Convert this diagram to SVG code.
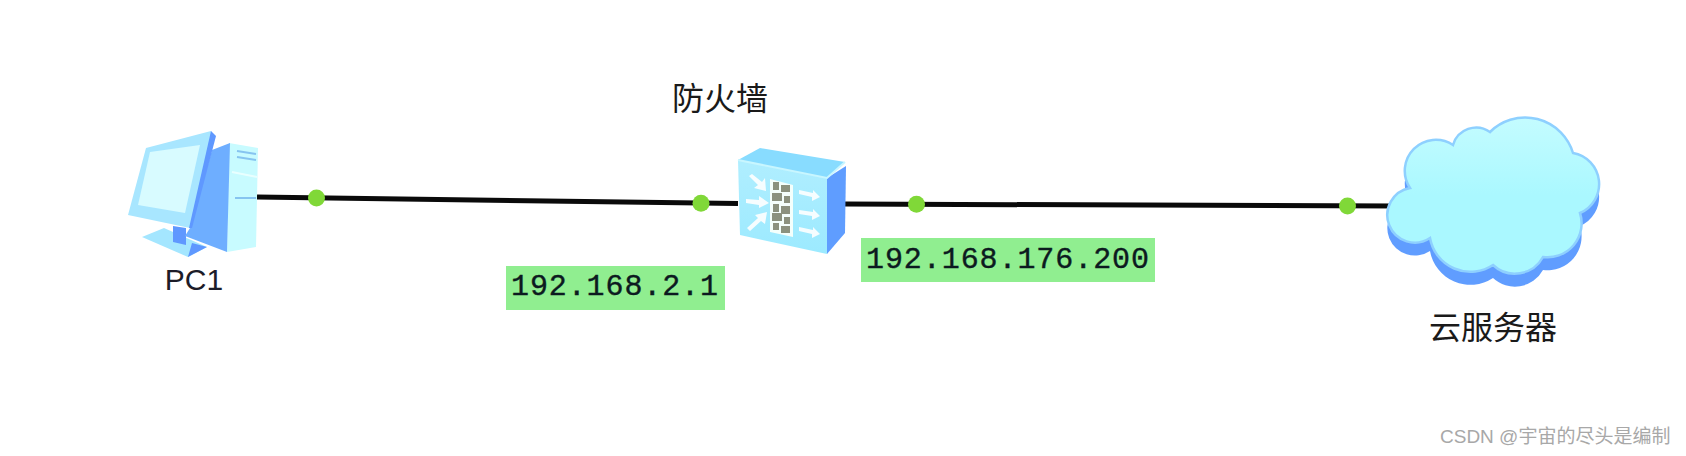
<svg xmlns="http://www.w3.org/2000/svg" width="1686" height="456" viewBox="0 0 1686 456">
<defs>
<style>
.conn{stroke:#0a0a0a;stroke-width:5;fill:none}
.dot{fill:#80d838}
.lbl{fill:#90ee90}
.ip{font-family:"Liberation Mono",monospace;font-size:30px;fill:#0c1a20;stroke:#0c1a20;stroke-width:.4}
.cn{font-family:"Noto Sans CJK SC",sans-serif;font-size:32px;fill:#1a1a1a}
.arr{fill:#fff;opacity:.9}
.brick{fill:#8b927f}
.soft{filter:url(#soft)}
</style>
<filter id="soft" x="-5%" y="-5%" width="110%" height="110%"><feGaussianBlur stdDeviation="0.7"/></filter>
<linearGradient id="cloudFill" x1="0" y1="0" x2="0" y2="1">
<stop offset="0" stop-color="#c4fcff"/><stop offset=".5" stop-color="#aaf8ff"/><stop offset="1" stop-color="#aaf8ff"/>
</linearGradient>
<linearGradient id="fwFront" x1="0" y1="0" x2="0" y2="1">
<stop offset="0" stop-color="#b0eeff"/><stop offset="1" stop-color="#9ceaff"/>
</linearGradient>
<path id="cloudShape" d="M1410 188 A27.5 27.5 0 1 0 1430 238 A41 41 0 0 0 1493 265 A32 32 0 0 0 1543 257 A34 34 0 0 0 1580 213 A31.5 31.5 0 0 0 1573 153 A50 50 0 0 0 1490 132 A24 24 0 0 0 1453 145 A31 31 0 0 0 1410 188 Z"/>
</defs>
<rect width="1686" height="456" fill="#fff"/>
<g id="connectors">
<path class="conn" d="M257 197 L738 203.5"/>
<path class="conn" d="M845 204 L1396 206"/>
<circle class="dot" cx="316.5" cy="198" r="8.5"/>
<circle class="dot" cx="701" cy="203.3" r="8.5"/>
<circle class="dot" cx="916.5" cy="204.3" r="8.5"/>
<circle class="dot" cx="1347.5" cy="206" r="8.5"/>
</g>
<g id="pc1">
<g class="soft">
<polygon points="142,237 164,228 207,247 188,257" fill="#a4e6ff"/>
<polygon points="173,226 186,228 186,245 173,242" fill="#5f98ff"/>
<polygon points="188,257 207,247 192,243" fill="#5f98ff"/>
<polygon points="229,143 258,148 256,247 227,252" fill="#c8fbff"/>
<polygon points="212,150 230,143 227,252 185,236 190,228" fill="#6eaeff"/>
<polygon points="211,131 146,148 128,215 190,228 213,140" fill="#a8e6ff"/>
<polygon points="211,131 216,136 192,228 189,228" fill="#5f98ff"/>
<polygon points="200,145 150,152 138,205 185,213" fill="#d8fbff"/>
<path d="M237 151 L256 154 M237 157 L256 160 M235 198 L256 198" stroke="#86c4f0" stroke-width="2" fill="none"/>
<path d="M232 172 L257 177" stroke="#e8ffff" stroke-width="2" fill="none"/>
</g>
<text x="194" y="290" font-family="'Liberation Sans',sans-serif" font-size="30" fill="#1c1c28" text-anchor="middle">PC1</text>
</g>
<g id="firewall">
<g class="soft">
<polygon points="738,160 760,148 845,162 827,178" fill="#88dcff"/>
<polygon points="738,160 827,178 827,254 740,235" fill="url(#fwFront)"/>
<polygon points="827,178 846,166 845,233 827,254" fill="#5f9dff"/>
<path d="M738 160 L827 178 L845 162" stroke="#c8f6ff" stroke-width="2" fill="none"/>
<polygon points="770,179 793,185 793,237 770,232" fill="#f4fffc"/>
<g class="brick">
<rect x="773" y="182" width="6" height="8"/><rect x="781" y="185" width="9" height="7"/>
<rect x="772" y="193" width="10" height="8"/><rect x="784" y="196" width="6" height="7"/>
<rect x="773" y="204" width="6" height="8"/><rect x="781" y="206" width="9" height="8"/>
<rect x="772" y="213" width="10" height="8"/><rect x="784" y="217" width="6" height="7"/>
<rect x="773" y="223" width="6" height="7"/><rect x="781" y="226" width="9" height="7"/>
</g>
<g class="arr">
<polygon points="749,176 752,174 762,182 765,178 766,191 754,188 758,185"/>
<polygon points="746,199 759,200 759,196 769,203 759,208 759,205 746,203"/>
<polygon points="750,231 747,228 758,218 755,215 767,212 765,224 761,221"/>
<polygon points="799,190 813,193 813,190 820,197 812,201 812,197 799,194"/>
<polygon points="799,210 813,212 813,209 820,216 812,220 812,216 799,214"/>
<polygon points="799,227 813,230 813,227 820,234 812,238 812,234 799,231"/>
</g>
</g>
<text class="cn" x="672" y="110">防火墙</text>
</g>
<g id="cloud">
<g class="soft">
<use href="#cloudShape" y="13" fill="#619dff"/>
<use href="#cloudShape" fill="url(#cloudFill)" stroke="#8ed0ff" stroke-width="2.5"/>
</g>
<text class="cn" x="1429" y="339">云服务器</text>
</g>
<g id="label-192-168-2-1">
<rect class="lbl" x="506" y="266" width="219" height="44"/>
<text class="ip" x="511" y="295" textLength="207" lengthAdjust="spacing">192.168.2.1</text>
</g>
<g id="label-192-168-176-200">
<rect class="lbl" x="861" y="238" width="294" height="44"/>
<text class="ip" x="866" y="268" textLength="283" lengthAdjust="spacing">192.168.176.200</text>
</g>
<text id="watermark" x="1440" y="443" font-family="'Liberation Sans','Noto Sans CJK SC',sans-serif" font-size="19" fill="#a8a8a8">CSDN @宇宙的尽头是编制</text>
</svg>
